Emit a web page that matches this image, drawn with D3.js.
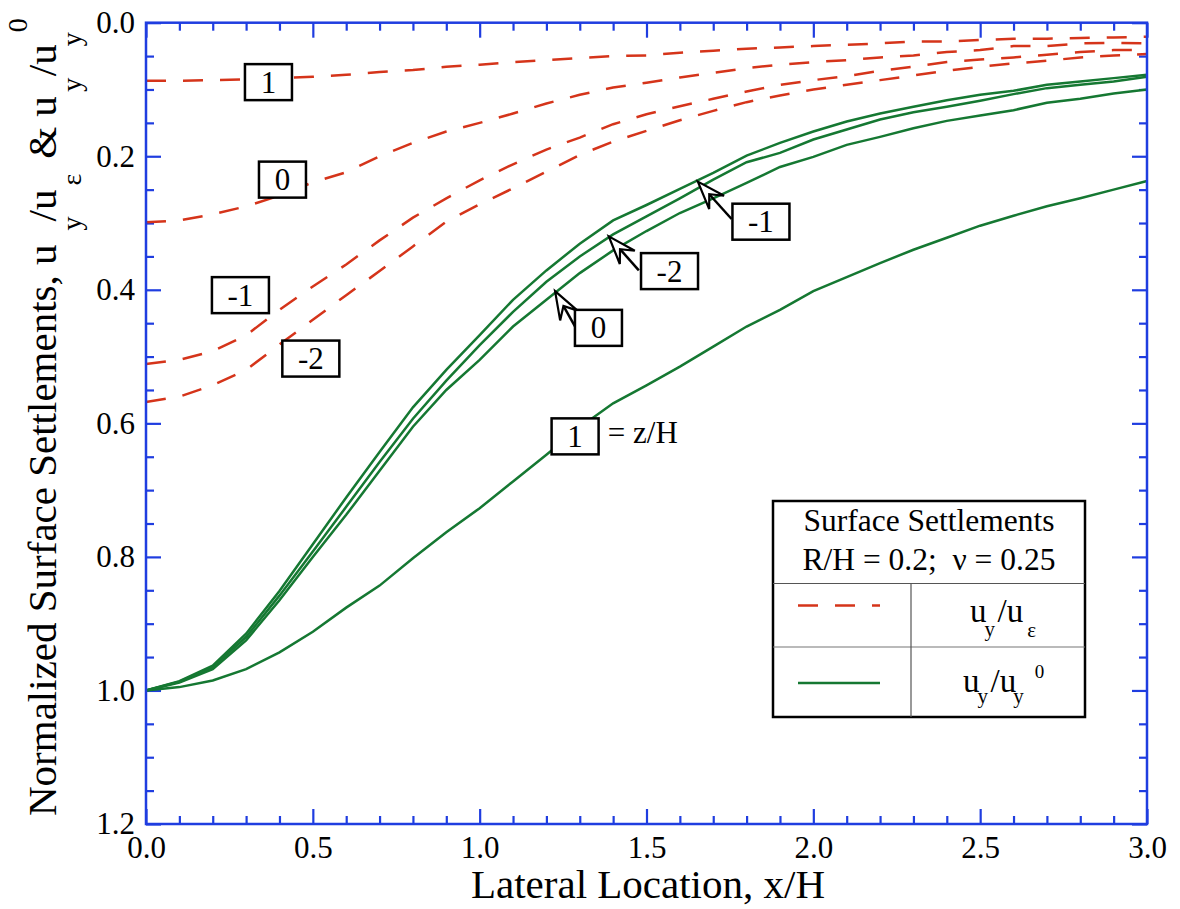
<!DOCTYPE html>
<html>
<head>
<meta charset="utf-8">
<script src="https://cdnjs.cloudflare.com/ajax/libs/d3/7.8.5/d3.min.js"></script>
<style>
body { margin: 0; background: #fff; }
svg { display: block; font-family: 'Liberation Serif', 'Times New Roman', serif; }
svg text { font-family: 'Liberation Serif', 'Times New Roman', serif; fill: #000; }
.axis line { stroke: #1f3de0; stroke-width: 2.2; }
.axis path { display: none; }
.axis text { font-size: 31px; }
</style>
</head>
<body>
<svg id="chart" width="1180" height="909"></svg>
<script>
// lateral location x/H
var xValues = [0, 0.1, 0.2, 0.3, 0.4, 0.5, 0.6, 0.7, 0.8, 0.9, 1.0, 1.1, 1.2, 1.3, 1.4, 1.5,
	1.6, 1.7, 1.8, 1.9, 2.0, 2.1, 2.2, 2.3, 2.4, 2.5, 2.6, 2.7, 2.8, 2.9, 3.0];

// u_y / u_eps  (dashed)
var redZ1  = [0.087, 0.087, 0.086, 0.085, 0.083, 0.081, 0.078, 0.074, 0.071, 0.066, 0.063, 0.059, 0.056, 0.053, 0.050, 0.049,
	0.045, 0.042, 0.039, 0.037, 0.035, 0.033, 0.031, 0.028, 0.028, 0.026, 0.024, 0.024, 0.023, 0.022, 0.021];
var redZ0  = [0.299, 0.296, 0.287, 0.275, 0.259, 0.239, 0.224, 0.200, 0.180, 0.163, 0.150, 0.136, 0.121, 0.108, 0.097, 0.090,
	0.082, 0.075, 0.068, 0.063, 0.059, 0.056, 0.052, 0.049, 0.044, 0.041, 0.035, 0.035, 0.031, 0.030, 0.031];
var redZm1 = [0.511, 0.505, 0.492, 0.468, 0.430, 0.395, 0.362, 0.326, 0.292, 0.263, 0.236, 0.212, 0.190, 0.172, 0.152, 0.137,
	0.125, 0.114, 0.103, 0.093, 0.086, 0.080, 0.072, 0.066, 0.059, 0.055, 0.052, 0.048, 0.044, 0.041, 0.041];
var redZm2 = [0.568, 0.560, 0.543, 0.520, 0.482, 0.445, 0.408, 0.372, 0.335, 0.298, 0.272, 0.248, 0.223, 0.198, 0.178, 0.162,
	0.146, 0.132, 0.119, 0.109, 0.100, 0.093, 0.086, 0.079, 0.072, 0.066, 0.061, 0.057, 0.052, 0.049, 0.047];

// u_y / u_y^0  (solid)
var greenZ1  = [1.000, 0.995, 0.985, 0.968, 0.943, 0.912, 0.876, 0.843, 0.802, 0.763, 0.727, 0.687, 0.647, 0.606, 0.570, 0.543,
	0.515, 0.485, 0.455, 0.430, 0.402, 0.381, 0.360, 0.340, 0.322, 0.304, 0.289, 0.275, 0.263, 0.250, 0.237];
var greenZ0  = [1.000, 0.988, 0.968, 0.925, 0.865, 0.800, 0.737, 0.671, 0.605, 0.550, 0.505, 0.455, 0.415, 0.375, 0.341, 0.312,
	0.285, 0.263, 0.240, 0.216, 0.201, 0.183, 0.171, 0.158, 0.147, 0.139, 0.131, 0.120, 0.114, 0.106, 0.100];
var greenZm1 = [1.000, 0.986, 0.963, 0.915, 0.851, 0.781, 0.711, 0.643, 0.576, 0.520, 0.468, 0.415, 0.371, 0.331, 0.296, 0.273,
	0.249, 0.225, 0.199, 0.180, 0.163, 0.148, 0.136, 0.126, 0.116, 0.108, 0.102, 0.093, 0.088, 0.083, 0.078];
var greenZm2 = [1.000, 0.987, 0.965, 0.920, 0.858, 0.792, 0.725, 0.658, 0.593, 0.536, 0.483, 0.433, 0.388, 0.350, 0.317, 0.290,
	0.263, 0.235, 0.209, 0.195, 0.175, 0.160, 0.145, 0.134, 0.126, 0.117, 0.107, 0.098, 0.093, 0.088, 0.081];

var xMajorTicks = [0, 0.5, 1.0, 1.5, 2.0, 2.5, 3.0];
var yMajorTicks = [0, 0.2, 0.4, 0.6, 0.8, 1.0, 1.2];

var dashedSeries = [redZ1, redZ0, redZm1, redZm2];
var solidSeries = [greenZ1, greenZ0, greenZm1, greenZm2];

// z/H labels, placed in data units
var redLabels = [
	{text: '1', x: 0.367, y: 0.089},
	{text: '0', x: 0.409, y: 0.235},
	{text: '-1', x: 0.283, y: 0.408},
	{text: '-2', x: 0.494, y: 0.503}
];
var greenLabels = [
	{text: '-1', x: 1.843, y: 0.298},
	{text: '-2', x: 1.569, y: 0.372},
	{text: '0', x: 1.356, y: 0.457},
	{text: '1', x: 1.286, y: 0.6195}
];
var arrows = [
	{x0: 1.755, y0: 0.294, x1: 1.654, y1: 0.238},
	{x0: 1.477, y0: 0.371, x1: 1.387, y1: 0.320},
	{x0: 1.286, y0: 0.455, x1: 1.226, y1: 0.402}
];

var blue = '#1f3de0';
var red = '#d5341a';
var green = '#157832';

var svg = d3.select('#chart');
var pLeft = 146, pRight = 1147, pTop = 22.7, pBottom = 824;

var x = d3.scaleLinear().domain([0, 3]).range([pLeft, pRight]);
var y = d3.scaleLinear().domain([0, 1.2]).range([pTop, pBottom]);

var xMinor = d3.range(0, 3.0001, 0.1).filter(d => Math.abs(d * 2 - Math.round(d * 2)) > 1e-6);
var yMinor = d3.range(0, 1.2001, 0.05).filter(d => Math.abs(d * 5 - Math.round(d * 5)) > 1e-6);
var fmt = d3.format('.1f');

svg.append('rect')
	.attr('width', 1180).attr('height', 909).attr('fill', '#fff');

// ticks, all pointing inward
var axisSpecs = [
	[d3.axisBottom(x).tickValues(xMajorTicks).tickSize(-15).tickPadding(12).tickFormat(fmt), `translate(0, ${pBottom})`],
	[d3.axisBottom(x).tickValues(xMinor).tickSize(-8).tickFormat(''), `translate(0, ${pBottom})`],
	[d3.axisTop(x).tickValues(xMajorTicks).tickSize(-15).tickFormat(''), `translate(0, ${pTop})`],
	[d3.axisTop(x).tickValues(xMinor).tickSize(-8).tickFormat(''), `translate(0, ${pTop})`],
	[d3.axisLeft(y).tickValues(yMajorTicks).tickSize(-15).tickPadding(11).tickFormat(fmt), `translate(${pLeft}, 0)`],
	[d3.axisLeft(y).tickValues(yMinor).tickSize(-8).tickFormat(''), `translate(${pLeft}, 0)`],
	[d3.axisRight(y).tickValues(yMajorTicks).tickSize(-15).tickFormat(''), `translate(${pRight}, 0)`],
	[d3.axisRight(y).tickValues(yMinor).tickSize(-8).tickFormat(''), `translate(${pRight}, 0)`]
];
axisSpecs.forEach(function(s) {
	svg.append('g')
		.attr('class', 'axis')
		.attr('transform', s[1])
		.call(s[0].tickSizeOuter(0))
		.attr('font-family', null)
		.attr('font-size', null);
});

var line = d3.line()
	.x((d, i) => x(xValues[i]))
	.y(d => y(d));

svg.selectAll('.dashed')
	.data(dashedSeries)
	.enter()
	.append('path')
	.attr('class', 'dashed')
	.attr('d', line)
	.attr('fill', 'none')
	.attr('stroke', red)
	.attr('stroke-width', 2.5)
	.attr('stroke-dasharray', '20 17');

svg.selectAll('.solid')
	.data(solidSeries)
	.enter()
	.append('path')
	.attr('class', 'solid')
	.attr('d', line)
	.attr('fill', 'none')
	.attr('stroke', green)
	.attr('stroke-width', 2.5);

svg.append('rect')
	.attr('x', pLeft).attr('y', pTop)
	.attr('width', pRight - pLeft).attr('height', pBottom - pTop)
	.attr('fill', 'none')
	.attr('stroke', blue)
	.attr('stroke-width', 2.5);

// arrows pointing at the green curves
arrows.forEach(function(a) {
	var tx = x(a.x0), ty = y(a.y0), hx = x(a.x1), hy = y(a.y1);
	var len = Math.hypot(hx - tx, hy - ty);
	var ux = (hx - tx) / len, uy = (hy - ty) / len;
	var nx = -uy, ny = ux;
	var L = 28, W = 10, N = 17;
	var bx = hx - ux * L, by = hy - uy * L;
	var kx = hx - ux * N, ky = hy - uy * N;
	svg.append('line')
		.attr('x1', tx).attr('y1', ty).attr('x2', kx).attr('y2', ky)
		.attr('stroke', '#000').attr('stroke-width', 2.5);
	svg.append('path')
		.attr('d', `M${hx},${hy}L${bx + nx * W},${by + ny * W}L${kx},${ky}L${bx - nx * W},${by - ny * W}Z`)
		.attr('fill', '#fff')
		.attr('stroke', '#000')
		.attr('stroke-width', 2.2)
		.attr('stroke-linejoin', 'miter');
});

var labels = svg.selectAll('.zlabel')
	.data(redLabels.concat(greenLabels))
	.enter()
	.append('g')
	.attr('class', 'zlabel')
	.attr('transform', d => `translate(${x(d.x)}, ${y(d.y)})`);
labels.append('rect')
	.attr('x', d => d.text.length > 1 ? -28.5 : -23.5)
	.attr('y', -18)
	.attr('width', d => d.text.length > 1 ? 57 : 47)
	.attr('height', 36)
	.attr('fill', '#fff')
	.attr('stroke', '#000')
	.attr('stroke-width', 2.5);
labels.append('text')
	.attr('text-anchor', 'middle')
	.attr('dy', '0.34em')
	.style('font-size', '31px')
	.text(d => d.text);

svg.append('text')
	.attr('x', x(1.384))
	.attr('y', y(0.629))
	.style('font-size', '31px')
	.text('= z/H');

// axis titles
svg.append('text')
	.attr('x', 648)
	.attr('y', 898)
	.attr('text-anchor', 'middle')
	.style('font-size', '41px')
	.text('Lateral Location, x/H');

var yTitle = svg.append('text')
	.attr('transform', 'translate(56, 816) rotate(-90)')
	.attr('xml:space', 'preserve')
	.style('font-size', '41px')
	.style('white-space', 'pre');
var titleParts = [
	{t: 'Normalized Surface Settlements, u', dx: 0, dy: 0, s: 41},
	{t: 'y', dx: 14, dy: 25, s: 28},
	{t: '/u', dx: -5, dy: -25, s: 41},
	{t: '\u03b5', dx: 4, dy: 25, s: 28},
	{t: '& u', dx: 15, dy: -25, s: 41},
	{t: 'y', dx: 4.5, dy: 25, s: 28},
	{t: '/u', dx: 1.5, dy: -25, s: 41},
	{t: 'y', dx: -2, dy: 25, s: 28},
	{t: '0', dx: 0, dy: -54, s: 28}
];
titleParts.forEach(function(p) {
	yTitle.append('tspan')
		.attr('dx', p.dx).attr('dy', p.dy)
		.style('font-size', p.s + 'px')
		.text(p.t);
});

// legend table
var lg = svg.append('g');
lg.append('rect')
	.attr('x', 773).attr('y', 501).attr('width', 312).attr('height', 216)
	.attr('fill', '#fff').attr('stroke', '#000').attr('stroke-width', 2.5);
lg.append('line').attr('x1', 773).attr('x2', 1085).attr('y1', 583.5).attr('y2', 583.5)
	.attr('stroke', '#555').attr('stroke-width', 1.2);
lg.append('line').attr('x1', 773).attr('x2', 1085).attr('y1', 647).attr('y2', 647)
	.attr('stroke', '#777').attr('stroke-width', 1.2);
lg.append('line').attr('x1', 911).attr('x2', 911).attr('y1', 583.5).attr('y2', 717)
	.attr('stroke', '#555').attr('stroke-width', 1.2);
lg.append('text').attr('x', 929).attr('y', 530.5).attr('text-anchor', 'middle')
	.style('font-size', '31.5px').text('Surface Settlements');
lg.append('text').attr('x', 929).attr('y', 570).attr('text-anchor', 'middle')
	.attr('xml:space', 'preserve')
	.style('font-size', '31.5px').style('white-space', 'pre').text('R/H = 0.2;  \u03bd = 0.25');
lg.append('line').attr('x1', 798).attr('x2', 880).attr('y1', 605.5).attr('y2', 605.5)
	.attr('stroke', red).attr('stroke-width', 2.5).attr('stroke-dasharray', '20 17');
lg.append('line').attr('x1', 798).attr('x2', 880).attr('y1', 683).attr('y2', 683)
	.attr('stroke', green).attr('stroke-width', 2.5);

var row1 = lg.append('text').attr('x', 970).attr('y', 621.7).style('font-size', '33px');
[
	{t: 'u', dx: 0, dy: 0, s: 33},
	{t: 'y', dx: -2, dy: 14, s: 21},
	{t: '/u', dx: 2.5, dy: -14, s: 33},
	{t: '\u03b5', dx: 4, dy: 15, s: 21}
].forEach(function(p) {
	row1.append('tspan').attr('dx', p.dx).attr('dy', p.dy).style('font-size', p.s + 'px').text(p.t);
});
var row2 = lg.append('text').attr('x', 963).attr('y', 691.5).style('font-size', '33px');
[
	{t: 'u', dx: 0, dy: 0, s: 33},
	{t: 'y', dx: -2, dy: 11, s: 21},
	{t: '/u', dx: 2.5, dy: -11, s: 33},
	{t: 'y', dx: -3, dy: 11, s: 21},
	{t: '0', dx: 11, dy: -25, s: 19}
].forEach(function(p) {
	row2.append('tspan').attr('dx', p.dx).attr('dy', p.dy).style('font-size', p.s + 'px').text(p.t);
});
</script>
</body>
</html>
